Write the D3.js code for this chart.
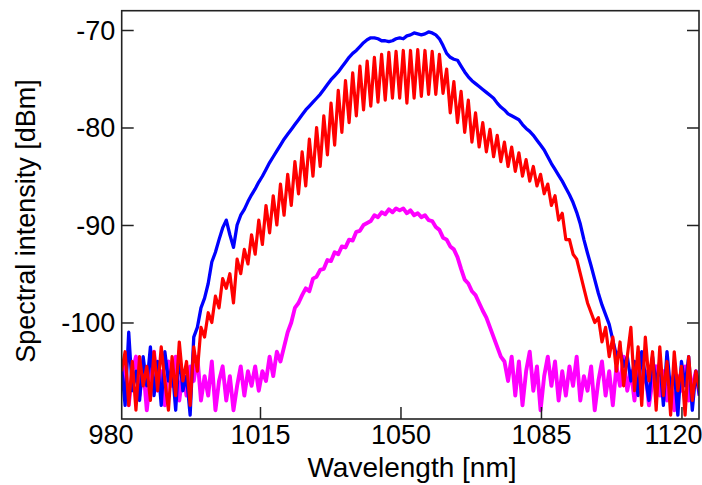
<!DOCTYPE html>
<html><head><meta charset="utf-8">
<script src="https://cdn.jsdelivr.net/npm/d3@7"></script>
<style>body{margin:0;background:#fff} svg{display:block} text{font-family:"Liberation Sans",Arial,sans-serif;fill:#000}</style>
</head><body><svg id="c" width="702" height="485"></svg>
<script>
// wavelength grid (nm): start and step of the sampled spectra
const gridStart = 980.5, gridStep = 0.9;

const blueSeries = [
-104.5,-108.5,-101.0,-107.0,-105.0,-108.0,-103.5,-106.5,-102.5,-107.5,-104.0,-108.5,-103.0,-106.0,-104.5,-109.0,-103.0,-107.0,-105.5,-109.5,
-101.5,-100.5,-98.5,-97.5,-96.0,-93.8,-92.8,-91.5,-90.3,-89.5,-91.0,-92.3,-90.0,-89.0,-88.4,-87.6,-86.9,-86.3,-85.6,-85.0,
-84.3,-83.6,-83.0,-82.4,-81.8,-81.2,-80.7,-80.2,-79.7,-79.2,-78.7,-78.2,-77.8,-77.4,-77.0,-76.6,-76.1,-75.6,-75.1,-74.7,
-74.3,-73.8,-73.3,-72.8,-72.4,-72.1,-71.7,-71.3,-71.0,-70.8,-70.8,-70.9,-71.1,-71.1,-71.2,-71.1,-70.9,-70.8,-70.9,-70.6,
-70.5,-70.3,-70.4,-70.5,-70.4,-70.2,-70.3,-70.5,-70.9,-71.6,-72.4,-72.8,-73.0,-73.1,-73.7,-74.3,-74.8,-75.2,-75.5,-75.8,
-76.1,-76.4,-76.7,-77.0,-77.5,-77.9,-78.2,-78.6,-78.8,-79.0,-79.2,-79.7,-80.1,-80.4,-80.8,-81.3,-81.8,-82.3,-83.0,-83.7,
-84.3,-84.9,-85.5,-86.2,-86.9,-87.7,-88.7,-89.9,-91.5,-92.9,-94.2,-95.6,-97.0,-98.2,-99.2,-100.2,-101.8,-103.4,-102.8,-104.5,
-103.5,-106.0,-104.0,-107.5,-103.0,-105.5,-108.0,-103.5,-106.5,-104.0,-108.5,-103.0,-107.0,-105.0,-109.5,-104.0,-106.5,-103.5,-109.0,-105.0,-107.5
];

const redSeries = [
-105.0,-103.0,-108.5,-104.0,-109.0,-103.5,-106.5,-104.5,-108.0,-103.0,-107.0,-102.5,-106.0,-109.0,-103.5,-107.5,-102.0,-106.0,-104.0,-108.5,
-102.5,-105.0,-100.5,-101.5,-99.0,-100.0,-97.3,-98.5,-95.5,-96.5,-95.0,-98.0,-93.5,-95.0,-92.5,-94.0,-91.0,-93.0,-89.5,-92.0,
-88.0,-90.8,-87.0,-90.0,-85.8,-89.0,-84.8,-88.0,-83.5,-86.8,-82.5,-86.0,-81.2,-85.0,-80.0,-84.0,-78.8,-82.8,-77.5,-81.8,
-76.2,-80.5,-75.2,-79.5,-74.4,-78.8,-73.7,-78.2,-73.2,-77.8,-72.8,-77.4,-72.5,-77.2,-72.3,-77.0,-72.2,-77.0,-72.1,-77.5,
-72.1,-77.0,-72.0,-76.8,-72.1,-76.6,-72.2,-76.6,-72.5,-76.5,-74.0,-78.5,-75.3,-79.5,-76.3,-80.5,-77.2,-81.5,-78.5,-82.0,
-79.5,-82.5,-80.2,-83.0,-80.8,-83.5,-81.5,-84.0,-82.0,-84.5,-82.6,-85.0,-83.3,-85.5,-84.0,-86.0,-84.8,-86.8,-85.8,-88.0,
-87.0,-89.5,-88.8,-91.5,-91.5,-93.0,-93.5,-95.0,-96.5,-98.0,-99.0,-100.0,-99.5,-102.0,-100.5,-103.5,-101.5,-105.0,-102.0,-106.5,
-103.5,-100.5,-107.0,-102.5,-108.5,-101.5,-106.0,-103.0,-109.0,-102.5,-107.5,-104.0,-109.5,-103.0,-107.0,-104.5,-109.5,-103.5,-108.0,-105.0,-107.0
];

const magentaSeries = [
-107.0,-104.0,-108.5,-105.0,-103.5,-107.5,-104.5,-109.0,-105.5,-103.0,-107.0,-105.0,-108.5,-104.0,-106.5,-103.5,-108.0,-105.0,-107.5,-104.5,
-106.0,-103.5,-108.0,-105.5,-107.5,-104.0,-109.0,-106.0,-104.5,-108.0,-105.5,-109.0,-106.5,-104.5,-107.5,-105.0,-106.5,-104.5,-107.0,-105.0,
-106.0,-103.5,-105.5,-103.0,-104.0,-102.5,-101.0,-100.0,-98.5,-98.0,-97.2,-96.5,-96.8,-95.5,-95.3,-94.6,-94.5,-93.6,-93.7,-92.8,
-93.0,-92.2,-92.3,-91.5,-91.6,-90.7,-90.6,-90.0,-89.8,-89.6,-89.0,-89.2,-88.7,-88.9,-88.4,-88.7,-88.3,-88.5,-88.3,-88.8,
-88.5,-89.0,-88.8,-89.2,-89.0,-89.5,-89.6,-90.2,-90.5,-91.3,-91.5,-92.2,-92.5,-93.3,-94.5,-95.6,-96.0,-96.8,-97.2,-98.0,
-98.8,-99.5,-100.5,-101.5,-102.5,-103.5,-104.0,-106.0,-103.5,-107.5,-104.0,-108.5,-105.0,-103.0,-107.0,-104.5,-109.0,-105.5,-103.5,-106.5,
-104.0,-108.0,-105.0,-107.5,-104.5,-106.5,-103.5,-108.0,-105.5,-107.0,-104.5,-109.0,-106.0,-104.0,-107.5,-105.0,-108.5,-104.5,-106.5,-103.5,
-107.0,-105.0,-108.0,-104.5,-106.5,-105.0,-108.5,-106.0,-104.5,-107.5,-105.0,-108.0,-106.0,-109.0,-105.5,-107.0,-104.5,-108.0,-106.5,-105.0,-107.5
];

const xTickValues = [980, 1015, 1050, 1085, 1120];
const yTickValues = [-70, -80, -90, -100];
const xDomain = [980.55, 1124.37];
const yDomain = [-109.9, -68.02];

const svg = d3.select('#c');
const L = 121.7, R = 699, T = 10.7, B = 419;
const x = d3.scaleLinear().domain(xDomain).range([L, R]);
const y = d3.scaleLinear().domain(yDomain).range([B, T]);

svg.append('clipPath').attr('id','clip').append('rect')
  .attr('x', L).attr('y', T).attr('width', R - L).attr('height', B - T);

const line = d3.line().x((d,i) => x(gridStart + i*gridStep)).y(d => y(d));
const series = [
  {v: magentaSeries, c: '#ff00ff', w: 3.9},
  {v: blueSeries, c: '#0000ff', w: 3.3},
  {v: redSeries, c: '#ff0000', w: 3.2}
];
const g = svg.append('g').attr('clip-path','url(#clip)');
series.forEach(s => {
  g.append('path').datum(s.v).attr('d', line)
   .attr('fill','none').attr('stroke', s.c).attr('stroke-width', s.w)
   .attr('stroke-linejoin','round');
});

// frame
svg.append('rect').attr('x', L).attr('y', T).attr('width', R - L).attr('height', B - T)
  .attr('fill','none').attr('stroke','#222').attr('stroke-width',1.6);

const fmt = d => String(d);
const fs = 27;
const gx = svg.append('g').attr('transform', `translate(0,${B})`)
  .call(d3.axisBottom(x).tickValues(xTickValues).tickSize(-12).tickSizeOuter(0).tickPadding(6).tickFormat(fmt));
gx.select('.domain').remove();
gx.selectAll('.tick line').attr('stroke','#222').attr('stroke-width',1.5);
gx.selectAll('.tick').filter(d => d < xDomain[0]).select('line').remove();
gx.selectAll('.tick text').attr('font-size', fs).attr('font-family','"Liberation Sans",Arial,sans-serif')
  .attr('dx', d => (d === 980 ? -9 : d === 1120 ? -8.5 : 0));

const gy = svg.append('g').attr('transform', `translate(${L},0)`)
  .call(d3.axisLeft(y).tickValues(yTickValues).tickSize(-12).tickSizeOuter(0).tickPadding(6.5).tickFormat(fmt));
gy.select('.domain').remove();
gy.selectAll('.tick line').attr('stroke','#222').attr('stroke-width',1.5);
gy.selectAll('.tick text').attr('font-size', fs).attr('dy','0.35em').attr('font-family','"Liberation Sans",Arial,sans-serif');

const gr = svg.append('g').attr('transform', `translate(${R},0)`)
  .call(d3.axisRight(y).tickValues(yTickValues).tickSize(-12).tickSizeOuter(0).tickFormat(''));
gr.select('.domain').remove();
gr.selectAll('.tick line').attr('stroke','#222').attr('stroke-width',1.5);

svg.append('text').attr('x', 412).attr('y', 476.5).attr('text-anchor','middle')
  .attr('font-size', 28).text('Wavelength [nm]');
svg.append('text').attr('transform','translate(35,221) rotate(-90)').attr('text-anchor','middle')
  .attr('font-size', 27).text('Spectral intensity [dBm]');
</script></body></html>
